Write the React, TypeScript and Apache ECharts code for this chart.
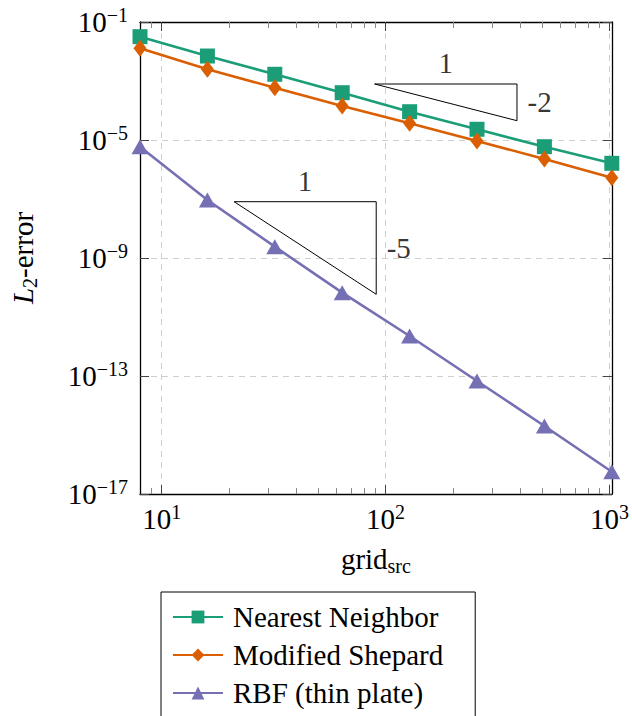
import React, { useEffect, useRef } from 'react';
import * as echarts from 'echarts';

const FONT = "'Liberation Serif', 'DejaVu Serif', serif";

const gridSizes = [8, 16, 32, 64, 128, 256, 512, 1024];
const nearestNeighbor = [3.18e-2, 7.03e-3, 1.69e-3, 4.01e-4, 9.1e-5, 2.31e-5, 5.93e-6, 1.62e-6];
const modifiedShepard = [1.28e-2, 2.49e-3, 5.93e-4, 1.42e-4, 3.68e-5, 9.25e-6, 2.27e-6, 5.27e-7];
const rbfThinPlate = [5.93e-6, 9.25e-8, 2.42e-9, 6.67e-11, 2.27e-12, 6.78e-14, 2.02e-15, 5.7e-17];

const seriesNames = ['Nearest Neighbor', 'Modified Shepard', 'RBF (thin plate)'];
const seriesColors = ['#1b9e77', '#d95f02', '#7570b3'];
const seriesValues = [nearestNeighbor, modifiedShepard, rbfThinPlate];

const xMajorTicks = [10, 100, 1000];
const xMinorTicks = [9, 20, 30, 40, 50, 60, 70, 80, 90, 200, 300, 400, 500, 600, 700, 800, 900];
const yMajorTicks = [1e-17, 1e-13, 1e-9, 1e-5, 1e-1];

const slopeTriangleAX = [89.3, 386.2, 386.2, 89.3];
const slopeTriangleAY = [7.91e-4, 7.91e-4, 4.51e-5, 7.91e-4];
const slopeTriangleBX = [21.06, 90.8, 90.8, 21.06];
const slopeTriangleBY = [8.1e-8, 8.1e-8, 5.88e-11, 8.1e-8];
const slopeRunLabels: [number, number, string][] = [[185.7, 7.91e-4, '1'], [43.7, 8.1e-8, '1']];
const slopeRiseLabels: [number, number, string][] = [[386.2, 1.889e-4, '-2'], [90.8, 2.18e-9, '-5']];

const X_MIN = 8;
const X_MAX = 1024;
const Y_MIN = 1e-17;
const Y_MAX = 1e-1;

const powFmt = (v: number) => {
  const e = Math.round(Math.log10(v));
  const s = e < 0 ? '\u2212' + -e : String(e);
  return `{b|10}{s|${s}}`;
};

const tickRich = {
  b: { fontFamily: FONT, fontSize: 29, lineHeight: 34, color: '#000' },
  s: { fontFamily: FONT, fontSize: 20, lineHeight: 21, verticalAlign: 'top', color: '#000' },
};
const plainRich = { t: { fontFamily: FONT, fontSize: 29, lineHeight: 29, color: '#000' } };

const axisLine = { show: true, onZero: false, lineStyle: { color: '#000', width: 1.3 } };
const majorTick = (vals: number[]) => ({
  show: true,
  inside: true,
  length: 9,
  customValues: vals,
  lineStyle: { color: '#444', width: 1 },
});
const minorTick = (vals: number[]) => ({
  show: true,
  inside: true,
  length: 6,
  customValues: vals,
  lineStyle: { color: '#888', width: 1 },
});
const gridLine = { show: true, lineStyle: { type: [6, 5], color: '#cfcfcf', width: 1 } };

export default function App() {
  const ref = useRef<HTMLDivElement>(null);
  useEffect(() => {
    if (!ref.current) return;
    const chart = echarts.init(ref.current, null, { renderer: 'svg' });
    const baseX = { type: 'log', logBase: 10, min: X_MIN, max: X_MAX, gridIndex: 0 };
    const baseY = { type: 'log', logBase: 10, min: Y_MIN, max: Y_MAX, gridIndex: 0 };
    const option: any = {
      animation: false,
      backgroundColor: '#fff',
      textStyle: { fontFamily: FONT },
      grid: { left: 140, top: 22, width: 472.7, height: 472 },
      legend: {
        data: seriesNames,
        orient: 'vertical',
        left: 161,
        top: 592,
        height: 300,
        itemWidth: 50,
        itemHeight: 16,
        itemGap: 0,
        padding: [6, 32, 8, 11],
        borderColor: '#000',
        borderWidth: 1,
        formatter: (name: string) => `{t|${name}}`,
        textStyle: {
          fontFamily: FONT,
          fontSize: 29,
          color: '#000',
          lineHeight: 38,
          padding: [0, 0, 0, 5],
          rich: { t: { fontFamily: FONT, fontSize: 29, lineHeight: 38, color: '#000' } },
        },
      },
      xAxis: [
        {
          ...baseX,
          position: 'bottom',
          axisLine,
          axisTick: majorTick(xMajorTicks),
          axisLabel: { customValues: xMajorTicks, formatter: powFmt, rich: tickRich, margin: 8, color: '#000' },
          splitLine: gridLine,
          name: '{b|grid}{sub|src}',
          nameLocation: 'middle',
          nameGap: 48,
          nameTextStyle: {
            color: '#000',
            rich: {
              b: { fontFamily: FONT, fontSize: 29, lineHeight: 34, color: '#000' },
              sub: { fontFamily: FONT, fontSize: 20, lineHeight: 10, verticalAlign: 'bottom', color: '#000' },
            },
          },
        },
        { ...baseX, position: 'bottom', axisLine: { show: false }, axisTick: minorTick(xMinorTicks), axisLabel: { show: false }, splitLine: { show: false } },
        { ...baseX, position: 'top', axisLine, axisTick: majorTick(xMajorTicks), axisLabel: { show: false }, splitLine: { show: false } },
        { ...baseX, position: 'top', axisLine: { show: false }, axisTick: minorTick(xMinorTicks), axisLabel: { show: false }, splitLine: { show: false } },
      ],
      yAxis: [
        {
          ...baseY,
          position: 'left',
          axisLine,
          axisTick: majorTick(yMajorTicks),
          axisLabel: { customValues: yMajorTicks, formatter: powFmt, rich: tickRich, margin: 12, color: '#000' },
          splitLine: gridLine,
          name: '{it|L}{sub|2}{b|-error}',
          nameLocation: 'middle',
          nameGap: 100,
          nameTextStyle: {
            color: '#000',
            rich: {
              it: { fontFamily: FONT, fontSize: 29, lineHeight: 34, fontStyle: 'italic', color: '#000' },
              b: { fontFamily: FONT, fontSize: 29, lineHeight: 34, color: '#000' },
              sub: { fontFamily: FONT, fontSize: 20, lineHeight: 18, verticalAlign: 'bottom', color: '#000' },
            },
          },
        },
        { ...baseY, position: 'right', axisLine, axisTick: majorTick(yMajorTicks), axisLabel: { show: false }, splitLine: { show: false } },
      ],
      series: [
        ...seriesNames.map((name, i) => ({
          name,
          type: 'line',
          xAxisIndex: 0,
          yAxisIndex: 0,
          clip: false,
          data: gridSizes.map((x, j) => [x, seriesValues[i][j]]),
          symbol: i === 0 ? 'rect' : i === 1 ? 'diamond' : 'triangle',
          symbolSize: i === 0 ? 15 : i === 1 ? [13, 17] : [17, 15],
          lineStyle: { color: seriesColors[i], width: 2.6 },
          itemStyle: { color: seriesColors[i] },
          z: 3 + i,
        })),
        {
          name: 'slopeA',
          type: 'line',
          data: slopeTriangleAX.map((x, j) => [x, slopeTriangleAY[j]]),
          symbol: 'none',
          lineStyle: { color: '#000', width: 1 },
          z: 2,
          silent: true,
        },
        {
          name: 'slopeB',
          type: 'line',
          data: slopeTriangleBX.map((x, j) => [x, slopeTriangleBY[j]]),
          symbol: 'none',
          lineStyle: { color: '#000', width: 1 },
          z: 2,
          silent: true,
        },
        {
          name: 'runLabels',
          type: 'scatter',
          data: slopeRunLabels.map((d) => ({ value: [d[0], d[1]], label: { formatter: `{t|${d[2]}}` } })),
          symbolSize: 1,
          itemStyle: { color: 'rgba(0,0,0,0)' },
          label: { show: true, position: 'top', distance: 6, rich: plainRich, color: '#000' },
          silent: true,
          z: 6,
        },
        {
          name: 'riseLabels',
          type: 'scatter',
          data: slopeRiseLabels.map((d) => ({ value: [d[0], d[1]], label: { formatter: `{t|${d[2]}}` } })),
          symbolSize: 1,
          itemStyle: { color: 'rgba(0,0,0,0)' },
          label: { show: true, position: 'right', distance: 10, rich: plainRich, color: '#000' },
          silent: true,
          z: 6,
        },
      ],
    };
    chart.setOption(option);
    return () => chart.dispose();
  }, []);
  return <div ref={ref} style={{ position: 'absolute', left: 0, top: 0, width: 632, height: 716 }} />;
}
